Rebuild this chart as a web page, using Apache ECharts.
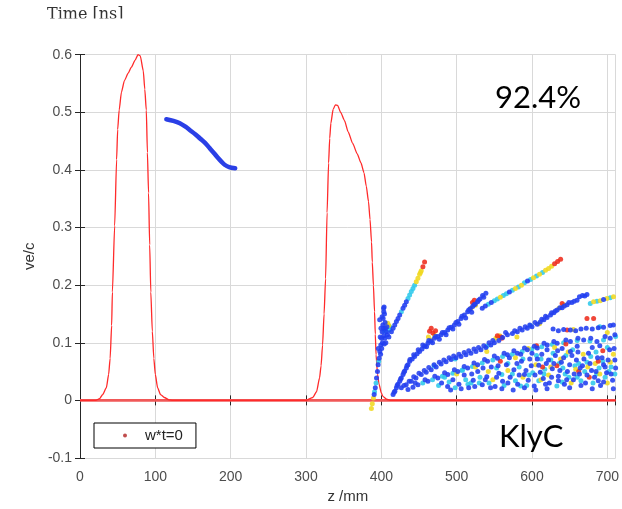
<!DOCTYPE html>
<html><head><meta charset="utf-8">
<script src="https://cdn.jsdelivr.net/npm/echarts@6/dist/echarts.min.js"></script>
<style>html,body{margin:0;padding:0;background:#fff}#c{width:622px;height:509px}</style>
</head><body><div id="c"></div>
<script>
// ---- data ----
const xTicks = [0,100,200,300,400,500,600,700];
const yTicks = [-0.1,0,0.1,0.2,0.3,0.4,0.5,0.6];
const redCurve = [[0,0],[21,0],[26,0.003],[30,0.010],[35,0.022],[38,0.045],[40,0.073],[42,0.13],[43,0.188],[46,0.303],[48.6,0.418],[50,0.47],[52,0.504],[55,0.535],[59,0.555],[64,0.568],[68,0.578],[73,0.59],[77,0.6],[80,0.598],[84,0.572],[86,0.54],[88,0.504],[89.5,0.43],[91,0.36],[92.5,0.27],[94,0.188],[96,0.12],[98,0.073],[100,0.045],[103,0.022],[107,0.01],[112,0.005],[118,0.001],[123,0],[300,0],[309,0.005],[314,0.015],[318,0.039],[320,0.06],[322,0.096],[324,0.15],[326,0.211],[328,0.326],[330,0.412],[331.5,0.455],[333,0.481],[336,0.505],[339,0.513],[342,0.512],[346,0.5],[351,0.486],[356,0.466],[362,0.446],[368,0.428],[373,0.412],[377,0.395],[380,0.372],[383,0.345],[385,0.314],[387,0.275],[388,0.24],[389.5,0.2],[391,0.154],[392,0.115],[393,0.079],[395,0.045],[397,0.028],[400,0.013],[402,0.007],[407,0.002],[413,0],[711,0]];
const baseLine = [[0,0],[711,0]];
const blueCurve = [[114.6,0.488],[124,0.485],[132.5,0.481],[140,0.475],[146,0.469],[153,0.462],[159,0.455],[166,0.447],[172,0.438],[178,0.429],[183,0.421],[188,0.414],[192,0.409],[198,0.405],[206,0.403]];
const bluePts = [[390.5,0.010],[392,0.022],[393.6,0.039],[394.9,0.050],[395.8,0.062],[397.1,0.073],[398,0.085],[399.3,0.096],[400.2,0.108],[401.1,0.119],[402,0.131],[402.4,0.142],[403.3,0.154],[403.7,0.162],[404.2,0.150],[402.8,0.125],[401.5,0.100],[404.6,0.108],[405.5,0.125],[406.8,0.119],[408.1,0.114],[400.5,0.090],[399,0.080],[403.5,0.112],[405,0.135],[404,0.098],
[410,0.110],[413.4,0.119],[415.6,0.125],[417.8,0.131],[420,0.137],[422.2,0.142],[424.4,0.148],[428.8,0.160],[431,0.165],[433.2,0.171],
[415.6,0.010],[418,0.016],[420,0.022],[422,0.028],[424.4,0.033],[426.5,0.039],[428.8,0.045],[431,0.051],[433.2,0.056],[435.4,0.062],[437.6,0.068],[441,0.072],[444.2,0.076],[447.5,0.081],[450.8,0.085],[454,0.089],[457.4,0.094],[461.8,0.099],[466,0.103],[470.6,0.108],[475,0.111],[479.4,0.114],[484,0.118],[488.2,0.122],[492.6,0.127],[497,0.131],[501.4,0.137],[505.8,0.142],[510.2,0.148],[514.6,0.154],[518,0.159],[521.2,0.163],[524.5,0.167],[527.8,0.171],[531,0.176],[534.4,0.182],[538.8,0.186],[460,0.093],[468,0.100],[477,0.106],[486,0.114],[495,0.124],[503,0.132],[512,0.143],[520,0.153],
[426.6,0.022],[433,0.027],[439.8,0.033],[446,0.039],[453,0.045],[459.6,0.049],[466.2,0.053],[472.8,0.058],[479.4,0.063],[486,0.067],[492.6,0.071],[499.2,0.074],[505.8,0.076],[512.4,0.079],[519,0.082],[525.6,0.085],[532.2,0.088],[538.8,0.092],[545.4,0.096],[550,0.100],[556,0.104],[561,0.109],[567.4,0.114],[574,0.116],[580.6,0.119],[587,0.122],[593.8,0.125],[600,0.128],[607,0.132],[611,0.136],[615.8,0.140],[620,0.144],[624.6,0.148],[629,0.152],[633.4,0.157],[640,0.161],[646.6,0.166],[653,0.170],[659.8,0.174],[663,0.180],[667,0.182],[670,0.181],[673,0.184],
[628,0.124],[635,0.121],[642,0.123],[651,0.122],[658,0.121],[665,0.124],[672,0.125],[680,0.124],[688,0.126],[695,0.127],[703.8,0.130],[708,0.131],[712,0.132],
[435.4,0.019],[442,0.023],[448.6,0.027],[461.8,0.033],[475,0.039],[488.2,0.045],[501.4,0.050],[514.6,0.056],[527.8,0.062],[541,0.068],[554.2,0.073],[567.4,0.079],[580.6,0.082],[593.8,0.088],[607,0.091],[620.2,0.096],[633.4,0.099],[651,0.102],[668.6,0.105],[686.2,0.102],[703.8,0.108],
[534,0.160],[538,0.164],[546,0.170],[570,0.188],[594,0.207],[695,0.175],
[480,0.030],[488,0.024],[495,0.036],[503,0.028],[510,0.044],[516,0.022],[522,0.035],[528,0.050],[534,0.027],[540,0.041],[546,0.058],[551,0.024],[556,0.047],[561,0.033],[566,0.062],[571,0.040],[576,0.053],[581,0.028],[586,0.068],[590,0.045],[595,0.035],[599,0.060],[603,0.025],[607,0.072],[611,0.049],[615,0.038],[619,0.064],[623,0.030],[627,0.055],[631,0.078],[635,0.042],[639,0.066],[643,0.028],[647,0.050],[651,0.085],[655,0.036],[659,0.070],[663,0.046],[667,0.060],[671,0.030],[675,0.082],[679,0.052],[683,0.040],[687,0.074],[691,0.026],[695,0.062],[699,0.048],[703,0.088],[707,0.035],[710,0.070],[600,0.082],[620,0.088],[640,0.090],[660,0.094],[690,0.095],[585,0.080],[570,0.074]];
const blueExtra = [[417,0.014],[421,0.026],[425.5,0.037],[430,0.049],[434,0.060],[438,0.071],[443,0.079],[449,0.088],[455,0.096],[463,0.104],[472,0.111],[481,0.118],[490,0.126],[499,0.135],[507,0.146],[516,0.157],[523,0.166],[529,0.174],[536,0.179],
[430,0.026],[437,0.033],[443,0.041],[450,0.047],[457,0.052],[463,0.057],[470,0.062],[477,0.066],[483,0.070],[490,0.074],[496,0.077],[503,0.080],[510,0.083],[516,0.086],[523,0.089],[529,0.092],[536,0.095],[543,0.100],[548,0.104],[565,0.118],[577,0.121],[584,0.125],[591,0.128],[597,0.131],[604,0.135],[613,0.141],[618,0.146],[626,0.152],[631,0.155],[637,0.161],[643,0.164],[649,0.170],[656,0.172],
[397.8,0.140],[399.5,0.125],[398.5,0.110],[401,0.145],[406,0.100],[407.5,0.128],[403,0.160],[396,0.090],
[445,0.030],[458,0.036],[471,0.042],[484,0.048],[497,0.053],[510,0.059],[523,0.065],[537,0.071],[550,0.077],[563,0.082],[576,0.086],[590,0.091],[603,0.094],[616,0.099],[629,0.102],[645,0.105],[661,0.108],[678,0.108],[697,0.111],[710,0.114],
[592,0.052],[597,0.072],[604,0.044],[609,0.061],[613,0.080],[618,0.028],[622,0.070],[626,0.040],[629,0.064],[634,0.086],[637,0.052],[642,0.074],[646,0.036],[650,0.062],[653,0.078],[656,0.046],[661,0.084],[664,0.056],[669,0.072],[673,0.044],[677,0.064],[680,0.092],[685,0.050],[688,0.034],[693,0.074],[697,0.058],[701,0.070],[705,0.046],[709,0.090],[711,0.056],[545,0.022],[560,0.020],[575,0.018],[590,0.022],[605,0.018],[620,0.020],[635,0.034],[650,0.022],[665,0.026],[680,0.020],[695,0.032],[708,0.020],[520,0.046],[535,0.056],[555,0.060],[580,0.064],
[492,0.018],[506,0.020],[524,0.024],[538,0.036],[553,0.040],[568,0.030],[583,0.044]];
const cyanPts = [[391,0.015],[393,0.030],[396.5,0.068],[404,0.120],[411.2,0.128],[410.5,0.122],
[426.6,0.154],[435.4,0.177],[437.6,0.183],[439.8,0.189],[442,0.194],[444.2,0.200],
[542,0.167],[550,0.173],[554,0.176],[562,0.182],[566,0.185],[574,0.191],[582,0.197],[590,0.204],[598,0.210],[606,0.216],[614,0.222],
[677.4,0.168],[686.2,0.172],[703.8,0.178],
[455,0.030],[468,0.036],[481,0.042],[495,0.047],[508,0.053],[521,0.059],[534,0.065],[548,0.070],[561,0.076],[574,0.080],[587,0.085],[600,0.089],[613,0.093],[627,0.097],[642,0.100],[660,0.104],[677,0.103],[695,0.105],[711,0.111],
[470,0.060],[498,0.072],[540,0.094],[598,0.130],[690,0.128],
[484,0.040],[498,0.022],[507,0.052],[519,0.030],[531,0.040],[543,0.030],[553,0.056],[563,0.026],[574,0.046],[583,0.058],[593,0.026],[601,0.048],[609,0.034],[617,0.054],[625,0.070],[633,0.025],[641,0.056],[649,0.040],[657,0.060],[665,0.034],[673,0.066],[681,0.030],[689,0.056],[697,0.040],[705,0.058],[712,0.026],[645,0.078],[685,0.084],[612,0.072],
[596,0.044],[606,0.078],[616,0.046],[628,0.082],[636,0.064],[644,0.046],[654,0.088],[662,0.064],[670,0.050],[678,0.076],[686,0.046],[694,0.068],[702,0.050],[710,0.046],[568,0.064],[578,0.034],[588,0.072],[530,0.030],[512,0.036],[490,0.032],[640,0.032],[660,0.040],[700,0.092],
[476,0.026],[515,0.028],[560,0.045],[585,0.025]];
const yellowPts = [[386.8,-0.014],[388,-0.006],[389.5,0.004],[409.9,0.130],[408.5,0.134],
[446.4,0.206],[448.6,0.212],[450.8,0.219],[452,0.222],[453,0.225],
[462.5,0.110],[470.6,0.113],[466,0.105],[519,0.160],[525,0.165],
[558,0.179],[578,0.194],[586,0.200],[602,0.213],[610,0.219],[618,0.226],[622,0.229],[626,0.233],
[552,0.108],[557,0.112],[636,0.160],[642,0.166],
[681.8,0.171],[690.6,0.173],[699.4,0.177],[708.2,0.180],[712.6,0.183],
[500,0.046],[525,0.058],[548,0.036],[568,0.052],[588,0.040],[605,0.062],[622,0.044],[638,0.072],[652,0.030],[668,0.080],[684,0.064],[700,0.030],[708,0.080],[630,0.092],[595,0.090],
[612,0.036],[648,0.084],[674,0.058],[690,0.046],[704,0.066],[658,0.054],[625,0.058],[578,0.074],[542,0.050],[540,0.085],[580,0.110],[610,0.133],[655,0.123],[700,0.118]];
const redPts = [[455.2,0.232],[457.4,0.240],[464,0.120],[466.2,0.125],[468.4,0.117],[521,0.170],[523.4,0.174],[554,0.112],[559,0.110],[630,0.237],[634,0.241],[638,0.245],[640,0.168],[646.6,0.122],[673,0.142],[681.8,0.142],
[558,0.068],[614,0.058],[662,0.050],[694,0.086],[676,0.040],[645,0.098],[606,0.095],[633,0.060],[688,0.068],[560,0.108],[472,0.121]];
const legendName = 'w*t=0';

// ---- chart ----
const chart = echarts.init(document.getElementById('c'), null, {renderer:'canvas'});
const AX = '#262626', LBL = '#4d4d4d', FONT = 'Liberation Sans, Arial, sans-serif', GRID = '#d9d9d9';
const xLabel = v => (v % 100 === 0 ? String(v) : '');
const yLabel = v => { const r = Math.round(v*10)/10; return r === 0 ? '0' : r.toFixed(1); };
const pts = (name, data, color, z) => ({type:'scatter', name, data, symbolSize:5, itemStyle:{color, opacity:0.88}, z, silent:true});
chart.setOption({
  animation:false,
  backgroundColor:'#ffffff',
  grid:{left:80, top:54.7, right:3, bottom:48.3},
  xAxis:[
    {type:'value', min:0, max:711, interval:100, position:'bottom',
     axisLine:{lineStyle:{color:AX, width:1}}, axisTick:{inside:true, length:5, lineStyle:{color:AX}},
     splitLine:{show:true, lineStyle:{color:GRID, width:1}},
     axisLabel:{color:LBL, fontSize:14, fontFamily:FONT, margin:12, formatter:xLabel},
     name:'z /mm', nameLocation:'middle', nameGap:31, nameTextStyle:{color:'#333', fontSize:15, fontFamily:FONT}},
    {type:'value', min:0, max:711, interval:100, position:'top',
     axisLine:{show:true, lineStyle:{color:AX, width:1}}, axisTick:{show:true, inside:true, length:5, lineStyle:{color:AX}},
     splitLine:{show:false}, axisLabel:{show:false}}
  ],
  yAxis:[
    {type:'value', min:-0.1, max:0.6, interval:0.1, position:'left',
     axisLine:{show:true, lineStyle:{color:AX, width:1}}, axisTick:{show:true, inside:true, length:5, lineStyle:{color:AX}},
     splitLine:{show:true, lineStyle:{color:GRID, width:1}},
     axisLabel:{color:LBL, fontSize:14, fontFamily:FONT, margin:8, formatter:yLabel},
     name:'ve/c', nameLocation:'middle', nameGap:42, nameTextStyle:{color:'#333', fontSize:15, fontFamily:FONT}},
    {type:'value', min:-0.1, max:0.6, interval:0.1, position:'right',
     axisLine:{show:true, lineStyle:{color:AX, width:1}}, axisTick:{show:true, inside:true, length:5, lineStyle:{color:AX}},
     splitLine:{show:false}, axisLabel:{show:false}}
  ],
  legend:{data:[{name:legendName, icon:'circle'}], left:94, top:423, orient:'horizontal',
    padding:[5,13,5,29], itemWidth:30, itemHeight:4, itemGap:5,
    borderColor:'#000', borderWidth:1, backgroundColor:'#fff',
    textStyle:{color:'#222', fontSize:15, fontFamily:FONT}},
  series:[
    {type:'line', name:'base', data:baseLine, symbol:'none', lineStyle:{color:'#f05858', width:2.6}, z:2, silent:true},
    {type:'line', name:'field', data:redCurve, symbol:'none', smooth:0.2, smoothMonotone:'x', lineStyle:{color:'#ff2a2a', width:1.3}, z:3, silent:true},
    {type:'line', name:'bunch', data:blueCurve, symbol:'none', smooth:0.3, lineStyle:{color:'#2a3fe6', width:4.5, cap:'round'}, z:4, silent:true},
    pts('c', cyanPts, '#2ec8ea', 5),
    pts('y', yellowPts, '#f0d820', 6),
    pts('r', redPts, '#ee2c1c', 7),
    pts('b', bluePts, '#1f3cf0', 8),
    pts('b2', blueExtra, '#2440ee', 8),
    {type:'scatter', name:legendName, data:[], itemStyle:{color:'#b02020'}}
  ],
  graphic:[
    {type:'text', left:47, top:7, z:100, style:{text:'Time [ns]', fontSize:16, fontFamily:'DejaVu Serif, serif', fill:'#333'}},
    {type:'rect', shape:{x:0, y:18.5, width:622, height:30}, style:{fill:'#fff'}, z:101, silent:true},
    {type:'text', x:495, y:98, z:100, style:{text:'92.4%', fontSize:31, fontFamily:'Lato, sans-serif', fill:'#000', verticalAlign:'middle'}},
    {type:'text', x:499, y:437, z:100, style:{text:'KlyC', fontSize:31, fontFamily:'Lato, sans-serif', fill:'#000', verticalAlign:'middle'}}
  ]
});
</script></body></html>
